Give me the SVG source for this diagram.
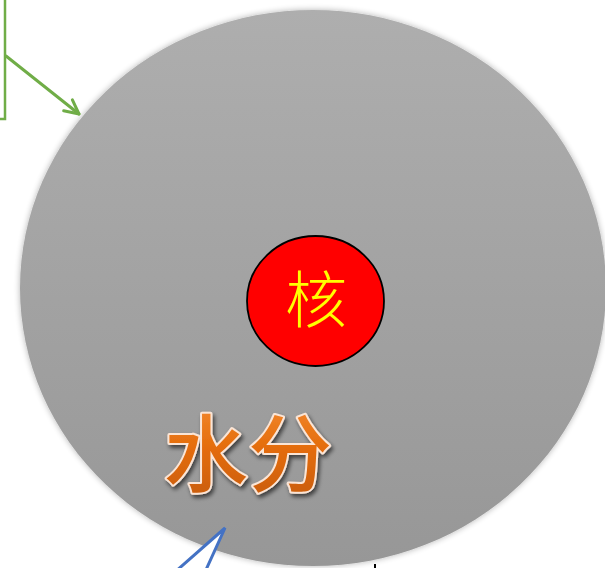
<svg xmlns="http://www.w3.org/2000/svg" width="605" height="568" viewBox="0 0 605 568">
<style>
.conn{fill:none;stroke-width:3;stroke-linecap:round;stroke-linejoin:round}
.cjk{font-family:"Noto Sans CJK SC","Noto Sans CJK JP",sans-serif}
</style>
<defs>
<linearGradient id="gray" x1="0" y1="0" x2="0" y2="1">
<stop offset="0" stop-color="#aeaeae"/>
<stop offset="1" stop-color="#979797"/>
</linearGradient>
<linearGradient id="orange" x1="0" y1="0" x2="0" y2="1">
<stop offset="0" stop-color="#f7913c"/>
<stop offset="0.5" stop-color="#e46c0a"/>
<stop offset="1" stop-color="#c45a0c"/>
</linearGradient>
<filter id="soft" x="-10%" y="-10%" width="120%" height="120%">
<feGaussianBlur in="SourceAlpha" stdDeviation="3"/>
<feComponentTransfer><feFuncA type="linear" slope="0.3"/></feComponentTransfer>
<feMerge><feMergeNode/><feMergeNode in="SourceGraphic"/></feMerge>
</filter>
<filter id="txtsh" x="-20%" y="-20%" width="140%" height="140%">
<feGaussianBlur in="SourceAlpha" stdDeviation="2"/>
<feOffset dx="2" dy="3"/>
<feComponentTransfer><feFuncA type="linear" slope="0.6"/></feComponentTransfer>
<feMerge><feMergeNode/><feMergeNode in="SourceGraphic"/></feMerge>
</filter>
<marker id="arrG" viewBox="0 0 20 20" refX="17" refY="10" markerWidth="20" markerHeight="20" markerUnits="userSpaceOnUse" orient="auto">
<path d="M3,3 L17,10 L3,17" fill="none" stroke="#70ad47" stroke-width="3" stroke-linecap="round" stroke-linejoin="round"/>
</marker>
</defs>
<rect width="605" height="568" fill="#ffffff"/>
<g id="cell">
<ellipse cx="313" cy="288" rx="293" ry="278" fill="url(#gray)" filter="url(#soft)"/>
</g>
<g id="nucleus">
<ellipse cx="315.5" cy="301" rx="68.5" ry="65" fill="#ff0000" stroke="#000000" stroke-width="1.8"/>
<text x="316" y="323" class="cjk" font-size="62" font-weight="300" fill="#ffff00" text-anchor="middle">核</text>
</g>
<g id="water">
<text x="248" y="485" class="cjk" font-size="84" font-weight="500" fill="url(#orange)" stroke="#fbe5d6" stroke-width="4" paint-order="stroke" stroke-linejoin="round" text-anchor="middle" filter="url(#txtsh)">水分</text>
</g>
<g id="greenbox">
<polyline points="5,0 5,119 0,119" fill="#ffffff" stroke="#70ad47" stroke-width="2.5"/>
</g>
<g id="callout">
<polygon points="225,528 175,572 205,572" fill="#ffffff" stroke="#4472c4" stroke-width="3" stroke-linejoin="miter"/>
</g>
<g id="connectors">
<line class="conn" x1="6" y1="56" x2="79" y2="114" stroke="#70ad47" marker-end="url(#arrG)"/>
<line x1="375" y1="564" x2="375" y2="568" stroke="#000000" stroke-width="2"/>
</g>
</svg>
